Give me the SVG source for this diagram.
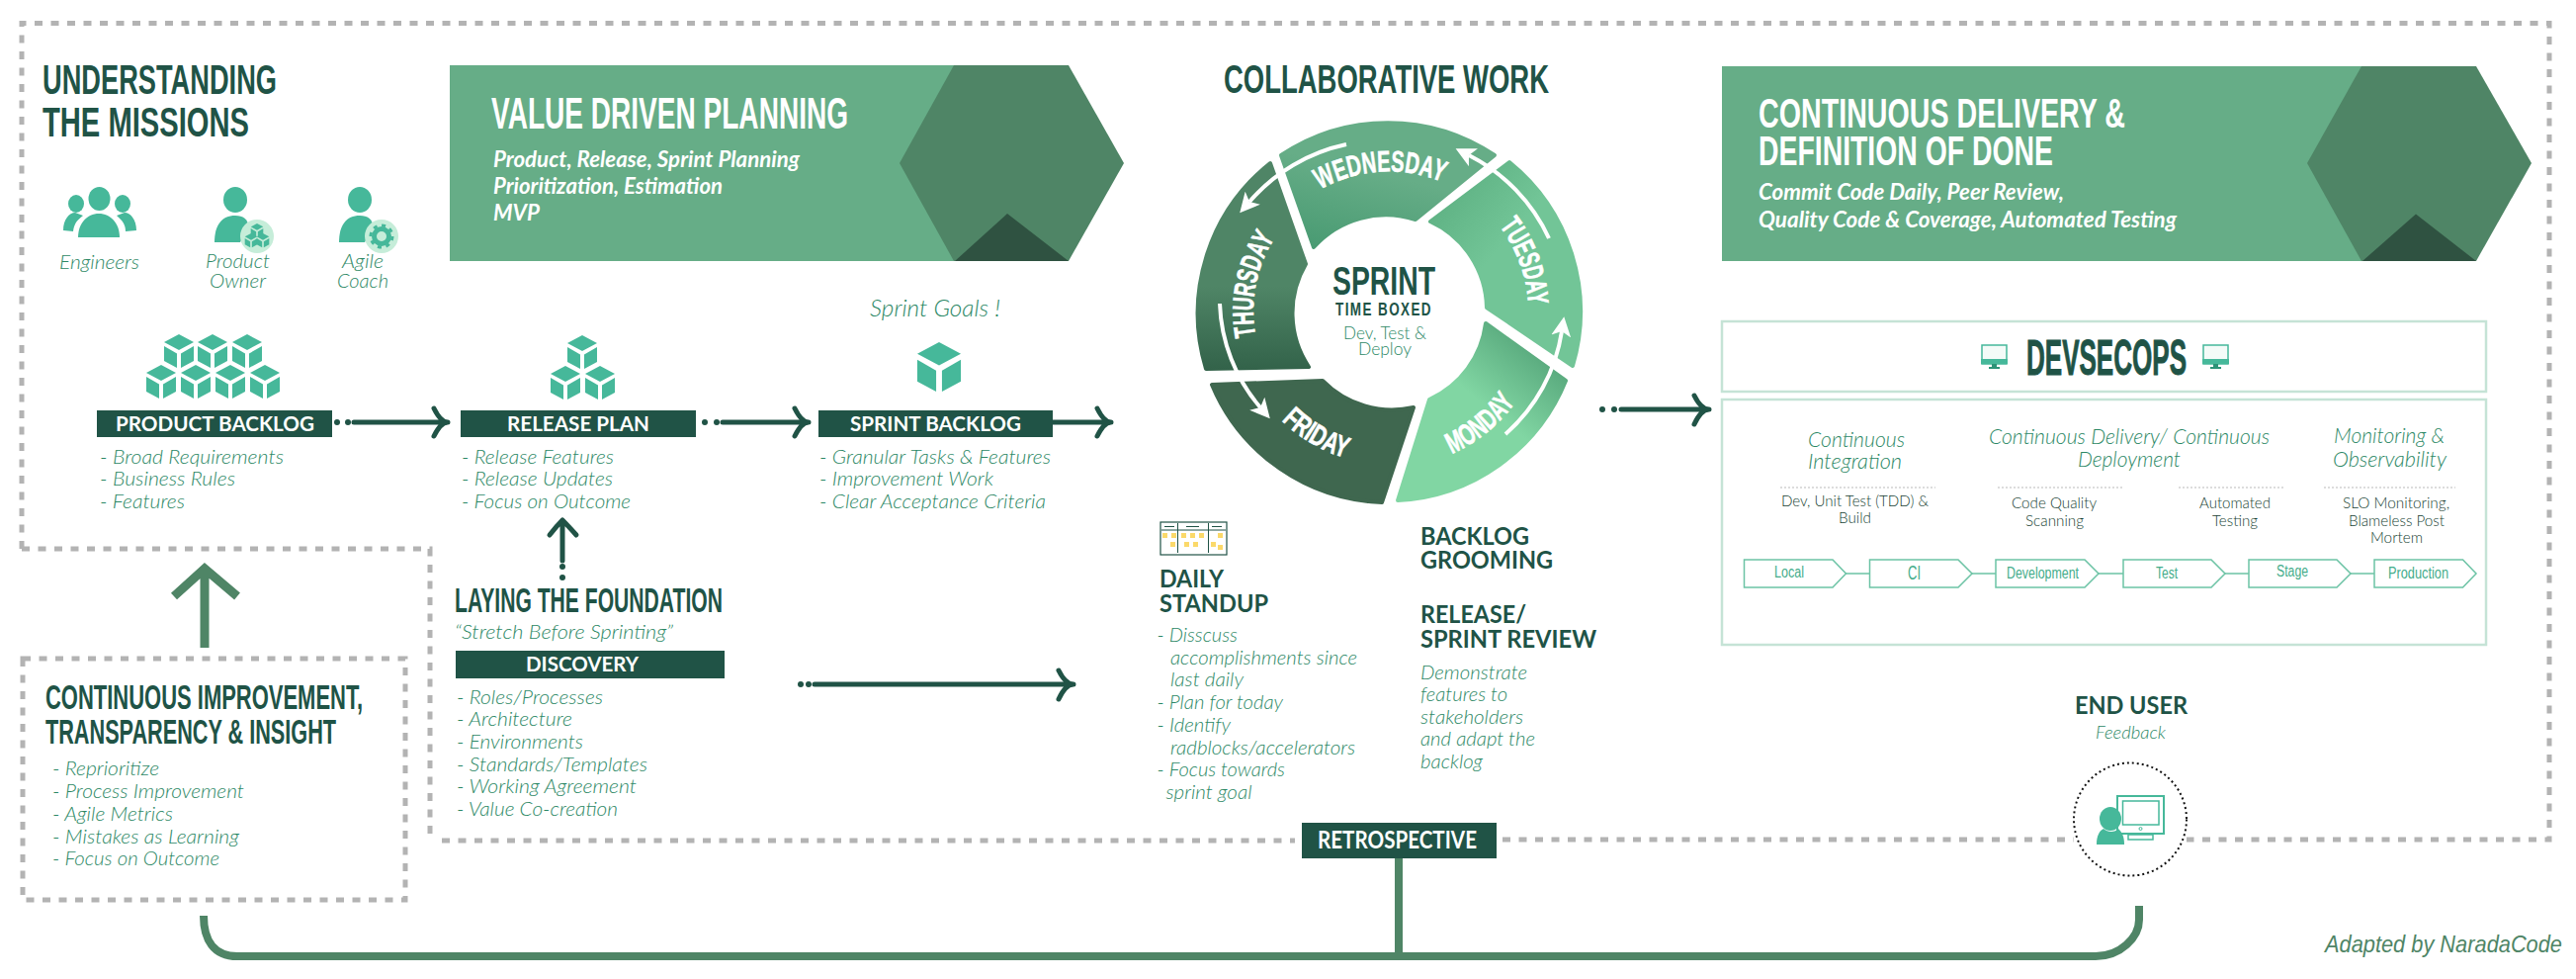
<svg xmlns="http://www.w3.org/2000/svg" xmlns:xlink="http://www.w3.org/1999/xlink" width="2606" height="990" viewBox="0 0 2606 990">
<style>
text{font-family:"Lato","Liberation Sans",sans-serif}
.cond{font-family:"Liberation Sans Narrow","Liberation Sans",sans-serif;font-weight:700}
.dk{fill:#205346}
.wh{fill:#fff}
.it{font-style:italic;font-weight:300;font-size:20px;fill:#2c8865}
.itb{font-style:italic;font-weight:700;font-size:22px;fill:#fff}
.sub{font-weight:700;font-size:25px;fill:#205346}
.bar{fill:#205346}
.bt{font-weight:700;font-size:21px;fill:#fff}
.dash{fill:none;stroke:#b3b3b3;stroke-width:5;stroke-dasharray:8 8.5}
.ar{fill:none;stroke:#205346;stroke-width:5;stroke-linecap:round;stroke-linejoin:round}
.dot{fill:#205346}
.gr{fill:none;stroke:#4f8566;stroke-width:8}
.ban{fill:#66ad87}.hex{fill:#4f8566}.tri{fill:#2f5241}
.teal{fill:#46b89a}
.wa{fill:none;stroke:#fff;stroke-width:4;marker-end:url(#wtip)}
.day{font-size:30px;fill:#fff;stroke:#fff;stroke-width:0.6;text-anchor:middle}
.box{fill:#fff;stroke:#c5e3d6;stroke-width:2.5}
.pipe{fill:#fff;stroke:#6cc3a5;stroke-width:1.5}
.pl{fill:none;stroke:#6cc3a5;stroke-width:1.5}
.ptx{font-family:"Liberation Sans Narrow","Liberation Sans",sans-serif;font-size:16px;fill:#45ad8b}
.dl{fill:none;stroke:#dcdcdc;stroke-width:2;stroke-dasharray:2 2}
.small{font-weight:300;font-size:15px;fill:#173f33}
.ihd{font-style:italic;font-weight:300;font-size:21px;fill:#2c8865}
.note{fill:#fbd96a}
</style>
<defs>
<marker id="wtip" viewBox="0 0 12 12" refX="3" refY="6" markerWidth="20" markerHeight="20" markerUnits="userSpaceOnUse" orient="auto"><path d="M0,0 L12,6 L0,12 L3,6Z" fill="#fff"/></marker>
<g id="cube"><path class="teal" d="M0,0 15,8 0,16 -15,8Z"/><path class="teal" d="M-15,12 -2,19.500 -2,34 -15,27Z"/><path class="teal" d="M15,12 2,19.500 2,34 15,27Z"/></g>
<g id="mon"><rect x="1" y="1" width="25" height="19" fill="#f4fbf8" stroke="#46b89a" stroke-width="1.500"/><rect x="0" y="15" width="27" height="5" fill="#46b89a"/><path d="M11,20h5v3h3v2h-11v-2h3z" fill="#2d9478"/></g>
<linearGradient id="gWed" x1="0.2" y1="1" x2="0.6" y2="0"><stop offset="0" stop-color="#4a9b73"/><stop offset="0.6" stop-color="#66ad87"/></linearGradient>
<linearGradient id="gTue" x1="0.1" y1="0" x2="0.7" y2="0.7"><stop offset="0" stop-color="#5aad7f"/><stop offset="0.6" stop-color="#72c597"/></linearGradient>
<linearGradient id="gMon" x1="0.85" y1="0" x2="0.5" y2="0.45"><stop offset="0" stop-color="#4d9c72"/><stop offset="1" stop-color="#81d6a3"/></linearGradient>
<linearGradient id="gThu" x1="0" y1="0" x2="0" y2="1"><stop offset="0.6" stop-color="#4f8566"/><stop offset="1" stop-color="#33634a"/></linearGradient>
<path id="pWed" d="M1314.400,206.500 A141 141 0 0 1 1481.800,196.200"/>
<path id="pTue" d="M1499.300,209.700 A141 141 0 0 1 1544.600,334.100"/>
<path id="pMon" d="M1443.200,467.800 A158 158 0 0 0 1547,383.800"/>
<path id="pFri" d="M1278,403.500 A155 155 0 0 0 1388.800,468.700"/>
<path id="pThu" d="M1278,365.800 A137 137 0 0 1 1306.500,219.300"/>
</defs>

<g id="frames">
<path class="dash" d="M22,555 V23.500 H2579 V849 H2212"/>
<path class="dash" d="M22,555 H435 V845"/>
<path class="dash" d="M447,850 H1310"/>
<path class="dash" d="M1520,849 H2098"/>
<rect class="dash" x="23" y="666" width="387" height="244"/>
</g>

<g id="connectors">
<circle class="dot" cx="341" cy="427" r="3"/><circle class="dot" cx="352" cy="427" r="3"/>
<path class="ar" d="M358,427 H452 M439,413 Q446,427 453,427 Q446,427 439,441"/>
<circle class="dot" cx="713" cy="427" r="3"/><circle class="dot" cx="725" cy="427" r="3"/>
<path class="ar" d="M731,427 H817 M804,413 Q811,427 818,427 Q811,427 804,441"/>
<path class="ar" d="M1065,427 H1123 M1110,413 Q1117,427 1124,427 Q1117,427 1110,441"/>
<path class="ar" d="M569,567 V526 M556,541 Q563,532 569,526 Q575,532 583,541"/>
<circle class="dot" cx="569" cy="573" r="3"/><circle class="dot" cx="569" cy="584" r="3"/>
<circle class="dot" cx="810" cy="692" r="3"/><circle class="dot" cx="818" cy="692" r="3"/>
<path class="ar" d="M824,692 H1085 M1071,678 Q1078,692 1086,692 Q1078,692 1071,707"/>
<circle class="dot" cx="1621" cy="414" r="3"/><circle class="dot" cx="1633" cy="414" r="3"/>
<path class="ar" d="M1640,414 H1728 M1714,400 Q1721,414 1729,414 Q1721,414 1714,429"/>
<path d="M207,655 V574 M176,603 L207,575 L240,603" fill="none" stroke="#4f8566" stroke-width="9"/>
<path class="gr" d="M206,926 C206,950 216,967 240,967 H2120 C2145,967 2164,948 2164,930 V916"/>
<path class="gr" d="M1415,868 V965"/>
</g>

<g id="understanding">
<text class="cond dk" x="43" y="95" font-size="43" textLength="237" lengthAdjust="spacingAndGlyphs">UNDERSTANDING</text>
<text class="cond dk" x="43" y="138" font-size="43" textLength="209" lengthAdjust="spacingAndGlyphs">THE MISSIONS</text>
</g>
<g id="engineers">
<ellipse class="teal" cx="100.500" cy="201" rx="11" ry="12"/><ellipse class="teal" cx="77" cy="206" rx="8" ry="9"/><ellipse class="teal" cx="124" cy="206" rx="8" ry="9"/>
<path class="teal" d="M64,233 C64,222 70,215 76,215 L84,218 C76,224 75,228 74,234Z"/><path class="teal" d="M138,233 C138,222 132,215 126,215 L118,218 C125,224 127,228 127,234Z"/>
<path class="teal" d="M79,240 C79,226 88,216 100,216 C112,216 121,226 121,240Z"/>
<text class="it" x="60" y="272" textLength="81" lengthAdjust="spacingAndGlyphs">Engineers</text>
</g>
<g id="product-owner">
<ellipse class="teal" cx="238" cy="202" rx="12" ry="13"/><path class="teal" d="M217,245 C217,228 224,218 238,218 C246,218 251,222 251,228 L243,245Z"/>
<ellipse cx="260" cy="239" rx="17" ry="17" fill="#c6edd9"/><use href="#cube" transform="translate(260,226) scale(0.42)"/><use href="#cube" transform="translate(254,236) scale(0.42)"/><use href="#cube" transform="translate(266,236) scale(0.42)"/>
<text class="it" x="208" y="271" textLength="65" lengthAdjust="spacingAndGlyphs">Product</text>
<text class="it" x="212" y="291" textLength="57" lengthAdjust="spacingAndGlyphs">Owner</text>
</g>
<g id="agile-coach">
<ellipse class="teal" cx="364" cy="202" rx="12" ry="13"/><path class="teal" d="M343,245 C343,228 350,218 364,218 C372,218 377,222 377,228 L369,245Z"/>
<ellipse cx="386" cy="239" rx="17" ry="17" fill="#c6edd9"/><circle cx="386" cy="239" r="7.500" fill="none" stroke="#46b89a" stroke-width="5"/><circle cx="386" cy="239" r="11" fill="none" stroke="#46b89a" stroke-width="3" stroke-dasharray="4 4.600"/>
<text class="it" x="346" y="271" textLength="42" lengthAdjust="spacingAndGlyphs">Agile</text>
<text class="it" x="341" y="291" textLength="52" lengthAdjust="spacingAndGlyphs">Coach</text>
</g>

<g id="value-planning">
<rect class="ban" x="455" y="66" width="515" height="198"/>
<path class="hex" d="M910,165 965,66 1081,66 1137,165 1081,264 965,264Z"/>
<path class="tri" d="M966,264 1019,216 1081,264Z"/>
<text class="cond wh" x="497" y="130" font-size="44" textLength="361" lengthAdjust="spacingAndGlyphs">VALUE DRIVEN PLANNING</text>
<text class="itb" x="499" y="169" textLength="310" lengthAdjust="spacingAndGlyphs">Product, Release, Sprint Planning</text>
<text class="itb" x="499" y="196" textLength="232" lengthAdjust="spacingAndGlyphs">Prioritization, Estimation</text>
<text class="itb" x="499" y="223" textLength="47" lengthAdjust="spacingAndGlyphs">MVP</text>
</g>

<g id="product-backlog">
<use href="#cube" x="181" y="338"/><use href="#cube" x="215" y="338"/><use href="#cube" x="250" y="338"/>
<use href="#cube" x="163" y="369"/><use href="#cube" x="198" y="369"/><use href="#cube" x="233" y="369"/><use href="#cube" x="268" y="369"/>
<rect class="bar" x="98" y="415" width="238" height="27"/>
<text class="bt" x="117" y="436" textLength="201" lengthAdjust="spacingAndGlyphs">PRODUCT BACKLOG</text>
<text class="it" x="101" y="469" textLength="186" lengthAdjust="spacingAndGlyphs">- Broad Requirements</text>
<text class="it" x="101" y="491" textLength="137" lengthAdjust="spacingAndGlyphs">- Business Rules</text>
<text class="it" x="101" y="514" textLength="86" lengthAdjust="spacingAndGlyphs">- Features</text>
</g>
<g id="release-plan">
<use href="#cube" x="589" y="339"/><use href="#cube" x="572" y="370"/><use href="#cube" x="607" y="370"/>
<rect class="bar" x="466" y="415" width="238" height="27"/>
<text class="bt" x="513" y="436" textLength="144" lengthAdjust="spacingAndGlyphs">RELEASE PLAN</text>
<text class="it" x="467" y="469" textLength="154" lengthAdjust="spacingAndGlyphs">- Release Features</text>
<text class="it" x="467" y="491" textLength="153" lengthAdjust="spacingAndGlyphs">- Release Updates</text>
<text class="it" x="467" y="514" textLength="171" lengthAdjust="spacingAndGlyphs">- Focus on Outcome</text>
</g>
<g id="sprint-backlog">
<text class="it" x="880" y="320" style="font-size:23px" textLength="132" lengthAdjust="spacingAndGlyphs">Sprint Goals !</text>
<use href="#cube" transform="translate(950,346) scale(1.47)"/>
<rect class="bar" x="828" y="415" width="237" height="27"/>
<text class="bt" x="860" y="436" textLength="173" lengthAdjust="spacingAndGlyphs">SPRINT BACKLOG</text>
<text class="it" x="829" y="469" textLength="234" lengthAdjust="spacingAndGlyphs">- Granular Tasks &amp; Features</text>
<text class="it" x="829" y="491" textLength="176" lengthAdjust="spacingAndGlyphs">- Improvement Work</text>
<text class="it" x="829" y="514" textLength="229" lengthAdjust="spacingAndGlyphs">- Clear Acceptance Criteria</text>
</g>

<g id="foundation">
<text class="cond dk" x="460" y="619" font-size="35" textLength="271" lengthAdjust="spacingAndGlyphs">LAYING THE FOUNDATION</text>
<text class="it" x="460" y="646" textLength="221" lengthAdjust="spacingAndGlyphs">“Stretch Before Sprinting”</text>
<rect class="bar" x="461" y="658" width="272" height="28"/>
<text class="bt" x="532" y="679" textLength="114" lengthAdjust="spacingAndGlyphs">DISCOVERY</text>
<text class="it" x="462" y="712" textLength="148" lengthAdjust="spacingAndGlyphs">- Roles/Processes</text>
<text class="it" x="462" y="734" textLength="117" lengthAdjust="spacingAndGlyphs">- Architecture</text>
<text class="it" x="462" y="757" textLength="128" lengthAdjust="spacingAndGlyphs">- Environments</text>
<text class="it" x="462" y="780" textLength="193" lengthAdjust="spacingAndGlyphs">- Standards/Templates</text>
<text class="it" x="462" y="802" textLength="182" lengthAdjust="spacingAndGlyphs">- Working Agreement</text>
<text class="it" x="462" y="825" textLength="163" lengthAdjust="spacingAndGlyphs">- Value Co-creation</text>
</g>

<g id="improvement">
<text class="cond dk" x="46" y="717" font-size="35" textLength="321" lengthAdjust="spacingAndGlyphs">CONTINUOUS IMPROVEMENT,</text>
<text class="cond dk" x="46" y="752" font-size="35" textLength="294" lengthAdjust="spacingAndGlyphs">TRANSPARENCY &amp; INSIGHT</text>
<text class="it" x="53" y="784" textLength="108" lengthAdjust="spacingAndGlyphs">- Reprioritize</text>
<text class="it" x="53" y="807" textLength="194" lengthAdjust="spacingAndGlyphs">- Process Improvement</text>
<text class="it" x="53" y="830" textLength="122" lengthAdjust="spacingAndGlyphs">- Agile Metrics</text>
<text class="it" x="53" y="853" textLength="189" lengthAdjust="spacingAndGlyphs">- Mistakes as Learning</text>
<text class="it" x="53" y="875" textLength="169" lengthAdjust="spacingAndGlyphs">- Focus on Outcome</text>
</g>

<g id="sprint-wheel">
<text class="cond dk" x="1238" y="94" font-size="41" textLength="329" lengthAdjust="spacingAndGlyphs">COLLABORATIVE WORK</text>
<g stroke-width="4" stroke-linejoin="round">
<path fill="url(#gWed)" stroke="url(#gWed)" d="M1296,157 A194 194 0 0 1 1512,157 L1432,222 A98 98 0 0 0 1329,250 Z"/>
<path fill="url(#gTue)" stroke="url(#gTue)" d="M1527,164 A194 194 0 0 1 1591,370 L1504,311 A98 98 0 0 0 1447,224 Z"/>
<path fill="url(#gMon)" stroke="url(#gMon)" d="M1584,385 A194 194 0 0 1 1414,506 L1446,404 A98 98 0 0 0 1503,327 Z"/>
<path fill="#3f674f" stroke="#3f674f" d="M1398,508 A194 194 0 0 1 1226,389 L1338,385 A98 98 0 0 0 1430,412 Z"/>
<path fill="url(#gThu)" stroke="url(#gThu)" d="M1220,373 A194 194 0 0 1 1285,165 L1321,267 A98 98 0 0 0 1324,371 Z"/>
</g>
<path class="wa" d="M1523,439 A173 173 0 0 0 1580,335"/>
<path class="wa" d="M1567,241 A178 178 0 0 0 1486,157"/>
<path class="wa" d="M1362,146 A178 178 0 0 0 1264,204"/>
<path class="wa" d="M1234,307 A170 170 0 0 0 1275,412"/>
<text class="cond day"><textPath href="#pWed" startOffset="50%" textLength="128" lengthAdjust="spacingAndGlyphs">WEDNESDAY</textPath></text>
<text class="cond day"><textPath href="#pTue" startOffset="50%" textLength="86" lengthAdjust="spacingAndGlyphs">TUESDAY</textPath></text>
<text class="cond day"><textPath href="#pMon" startOffset="50%" textLength="84" lengthAdjust="spacingAndGlyphs">MONDAY</textPath></text>
<text class="cond day"><textPath href="#pFri" startOffset="50%" textLength="76" lengthAdjust="spacingAndGlyphs">FRIDAY</textPath></text>
<text class="cond day"><textPath href="#pThu" startOffset="50%" textLength="103" lengthAdjust="spacingAndGlyphs">THURSDAY</textPath></text>
<text class="cond dk" x="1348" y="298" font-size="41" textLength="104" lengthAdjust="spacingAndGlyphs">SPRINT</text>
<text class="cond dk" x="1351" y="319" font-size="19" letter-spacing="2" textLength="98" lengthAdjust="spacingAndGlyphs">TIME BOXED</text>
<text x="1359" y="343" font-size="17" font-weight="300" fill="#2c8865" textLength="84" lengthAdjust="spacingAndGlyphs">Dev, Test &amp;</text>
<text x="1374" y="359" font-size="17" font-weight="300" fill="#2c8865" textLength="54" lengthAdjust="spacingAndGlyphs">Deploy</text>
</g>

<g id="daily-standup">
<rect x="1174" y="528" width="67" height="33" fill="#fff" stroke="#205346" stroke-width="1.200"/>
<path d="M1175,536 H1240 M1191.500,529 V559 M1222.500,529 V559" fill="none" stroke="#205346" stroke-width="1"/>
<path d="M1178,532.500 H1188 M1200,532.500 H1213 M1226,532.500 H1236" fill="none" stroke="#205346" stroke-width="1.200"/>
<g class="note"><rect x="1176" y="539" width="5" height="5"/><rect x="1185" y="539" width="5" height="5"/><rect x="1195" y="539" width="5" height="5"/><rect x="1204" y="539" width="5" height="5"/><rect x="1213" y="539" width="5" height="5"/><rect x="1232" y="539" width="5" height="5"/><rect x="1184" y="548" width="5" height="5"/><rect x="1198" y="548" width="5" height="5"/><rect x="1207" y="548" width="5" height="5"/><rect x="1225" y="548" width="5" height="5"/><rect x="1232" y="551" width="5" height="5"/></g>
<text class="sub" x="1173" y="594" textLength="65" lengthAdjust="spacingAndGlyphs">DAILY</text>
<text class="sub" x="1173" y="619" textLength="110" lengthAdjust="spacingAndGlyphs">STANDUP</text>
<text class="it" x="1170.500" y="649" textLength="81.500" lengthAdjust="spacingAndGlyphs">- Disscuss</text>
<text class="it" x="1184" y="672" textLength="189" lengthAdjust="spacingAndGlyphs">accomplishments since</text>
<text class="it" x="1184" y="694" textLength="74" lengthAdjust="spacingAndGlyphs">last daily</text>
<text class="it" x="1170.500" y="717" textLength="127.500" lengthAdjust="spacingAndGlyphs">- Plan for today</text>
<text class="it" x="1170.500" y="740" textLength="74.500" lengthAdjust="spacingAndGlyphs">- Identify</text>
<text class="it" x="1184" y="763" textLength="187" lengthAdjust="spacingAndGlyphs">radblocks/accelerators</text>
<text class="it" x="1170.500" y="785" textLength="129.500" lengthAdjust="spacingAndGlyphs">- Focus towards</text>
<text class="it" x="1179.500" y="808" textLength="87" lengthAdjust="spacingAndGlyphs">sprint goal</text>
</g>

<g id="backlog-grooming">
<text class="sub" x="1437" y="551" textLength="110" lengthAdjust="spacingAndGlyphs">BACKLOG</text>
<text class="sub" x="1437" y="575" textLength="134" lengthAdjust="spacingAndGlyphs">GROOMING</text>
</g>
<g id="release-review">
<text class="sub" x="1437" y="630" textLength="107" lengthAdjust="spacingAndGlyphs">RELEASE/</text>
<text class="sub" x="1437" y="655" textLength="178" lengthAdjust="spacingAndGlyphs">SPRINT REVIEW</text>
<text class="it" x="1437" y="687" textLength="108" lengthAdjust="spacingAndGlyphs">Demonstrate</text>
<text class="it" x="1437" y="709" textLength="88" lengthAdjust="spacingAndGlyphs">features to</text>
<text class="it" x="1437" y="732" textLength="104" lengthAdjust="spacingAndGlyphs">stakeholders</text>
<text class="it" x="1437" y="754" textLength="116" lengthAdjust="spacingAndGlyphs">and adapt the</text>
<text class="it" x="1437" y="777" textLength="63" lengthAdjust="spacingAndGlyphs">backlog</text>
</g>

<g id="retrospective">
<rect class="bar" x="1317" y="832" width="197" height="36"/>
<text class="bt" x="1333" y="858" style="font-size:24px" textLength="161" lengthAdjust="spacingAndGlyphs">RETROSPECTIVE</text>
</g>

<g id="delivery">
<rect class="ban" x="1742" y="67" width="650" height="197"/>
<path class="hex" d="M2334,165 2389,67 2505,67 2561,165 2505,264 2389,264Z"/>
<path class="tri" d="M2390,264 2444,216.500 2505,264Z"/>
<text class="cond wh" x="1779" y="129" font-size="43" textLength="371" lengthAdjust="spacingAndGlyphs">CONTINUOUS DELIVERY &amp;</text>
<text class="cond wh" x="1779" y="167" font-size="43" textLength="298" lengthAdjust="spacingAndGlyphs">DEFINITION OF DONE</text>
<text class="itb" x="1779" y="202" textLength="309" lengthAdjust="spacingAndGlyphs">Commit Code Daily, Peer Review,</text>
<text class="itb" x="1779" y="230" textLength="423" lengthAdjust="spacingAndGlyphs">Quality Code &amp; Coverage, Automated Testing</text>
</g>

<g id="devsecops-title">
<rect class="box" x="1742" y="325" width="773" height="71"/>
<use href="#mon" x="2004" y="348"/><use href="#mon" x="2228" y="348"/>
<text class="cond dk" x="2050" y="379" font-size="50" stroke="#205346" stroke-width="1" textLength="162" lengthAdjust="spacingAndGlyphs">DEVSECOPS</text>
</g>
<g id="devsecops-pipeline">
<rect class="box" x="1742" y="404" width="773" height="248"/>
<text class="ihd" x="1829" y="452" textLength="98" lengthAdjust="spacingAndGlyphs">Continuous</text>
<text class="ihd" x="1829" y="474" textLength="95" lengthAdjust="spacingAndGlyphs">Integration</text>
<text class="ihd" x="2012" y="449" textLength="284" lengthAdjust="spacingAndGlyphs">Continuous Delivery/ Continuous</text>
<text class="ihd" x="2102" y="472" textLength="104" lengthAdjust="spacingAndGlyphs">Deployment</text>
<text class="ihd" x="2361" y="448" textLength="112" lengthAdjust="spacingAndGlyphs">Monitoring &amp;</text>
<text class="ihd" x="2360" y="472" textLength="115" lengthAdjust="spacingAndGlyphs">Observability</text>
<path class="dl" d="M1801,493 H1958 M2021,493 H2147 M2204,493 H2310 M2351,493 H2484"/>
<text class="small" x="1802" y="512" textLength="149" lengthAdjust="spacingAndGlyphs">Dev, Unit Test (TDD) &amp;</text>
<text class="small" x="1860" y="529" textLength="33" lengthAdjust="spacingAndGlyphs">Build</text>
<text class="small" x="2035" y="514" textLength="86" lengthAdjust="spacingAndGlyphs">Code Quality</text>
<text class="small" x="2049" y="532" textLength="59" lengthAdjust="spacingAndGlyphs">Scanning</text>
<text class="small" x="2225" y="514" textLength="72" lengthAdjust="spacingAndGlyphs">Automated</text>
<text class="small" x="2238" y="532" textLength="46" lengthAdjust="spacingAndGlyphs">Testing</text>
<text class="small" x="2370" y="514" textLength="108" lengthAdjust="spacingAndGlyphs">SLO Monitoring,</text>
<text class="small" x="2376" y="532" textLength="97" lengthAdjust="spacingAndGlyphs">Blameless Post</text>
<text class="small" x="2398" y="549" textLength="53" lengthAdjust="spacingAndGlyphs">Mortem</text>
<path class="pl" d="M1867,580 H1892 M1995,580 H2019 M2123,580 H2148 M2251,580 H2275 M2378,580 H2402"/>
<path class="pipe" d="M1764.500,566 H1854 L1867.500,580 1854,594 H1764.500Z"/>
<path class="pipe" d="M1891.500,566 H1981 L1995,580 1981,594 H1891.500Z"/>
<path class="pipe" d="M2019,566 H2109 L2123,580 2109,594 H2019Z"/>
<path class="pipe" d="M2148,566 H2237 L2251,580 2237,594 H2148Z"/>
<path class="pipe" d="M2275,566 H2364 L2378,580 2364,594 H2275Z"/>
<path class="pipe" d="M2402,566 H2491.500 L2505,580 2491.500,594 H2402Z"/>
<text class="ptx" x="1795" y="584" textLength="30" lengthAdjust="spacingAndGlyphs">Local</text>
<text class="ptx" x="1930" y="586" style="font-size:21px" textLength="13" lengthAdjust="spacingAndGlyphs">CI</text>
<text class="ptx" x="2030" y="585" textLength="73" lengthAdjust="spacingAndGlyphs">Development</text>
<text class="ptx" x="2181" y="585" textLength="22" lengthAdjust="spacingAndGlyphs">Test</text>
<text class="ptx" x="2303" y="583" textLength="32" lengthAdjust="spacingAndGlyphs">Stage</text>
<text class="ptx" x="2416" y="585" textLength="61" lengthAdjust="spacingAndGlyphs">Production</text>
</g>

<g id="end-user">
<text class="bt" x="2099" y="722" style="fill:#205346;font-size:25px" textLength="114" lengthAdjust="spacingAndGlyphs">END USER</text>
<text class="it" x="2120" y="747" style="font-size:18px" textLength="71" lengthAdjust="spacingAndGlyphs">Feedback</text>
<circle cx="2155" cy="828.500" r="57" fill="#fff" stroke="#111" stroke-width="2" stroke-dasharray="2 3"/>
<rect x="2142" y="805" width="47" height="38" fill="#fff" stroke="#46b89a" stroke-width="2"/>
<rect x="2147.500" y="810" width="36.500" height="24" fill="#fff" stroke="#46b89a" stroke-width="1.500"/>
<circle cx="2165.500" cy="838" r="1.500" fill="none" stroke="#46b89a"/>
<rect x="2153" y="844" width="25" height="5" fill="#fff" stroke="#46b89a" stroke-width="1.500"/>
<ellipse class="teal" cx="2135" cy="828" rx="11" ry="12"/>
<path class="teal" d="M2121,854 C2121,845 2124,840 2128,838 C2132,842 2140,842 2143,838 C2147,842 2149,846 2149,854Z"/>
</g>

<g id="credit">
<text x="2352" y="963" style="font-family:'Liberation Sans Narrow','Liberation Sans',sans-serif" font-style="italic" font-size="24" fill="#4f8566" textLength="240" lengthAdjust="spacingAndGlyphs">Adapted by NaradaCode</text>
</g>
</svg>
